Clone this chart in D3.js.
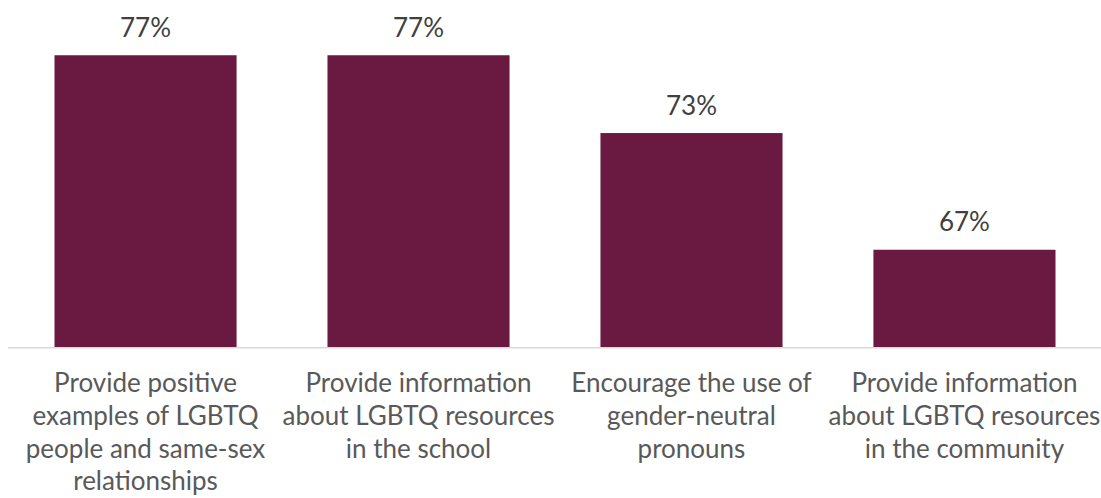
<!DOCTYPE html>
<html>
<head>
<meta charset="utf-8">
<script src="https://cdn.jsdelivr.net/npm/d3@7"></script>
<style>
  html, body { margin: 0; padding: 0; background: #fff; }
  svg { display: block; }
  text { font-family: Lato, "Open Sans", sans-serif; }
</style>
</head>
<body>
<svg id="chart" width="1101" height="498"></svg>
<script>
// Share of respondents supporting each practice (percent)
const categories = [
  "Provide positive\nexamples of LGBTQ\npeople and same-sex\nrelationships",
  "Provide information\nabout LGBTQ resources\nin the school",
  "Encourage the use of\ngender-neutral\npronouns",
  "Provide information\nabout LGBTQ resources\nin the community"
];
const values = [77, 77, 73, 67];
const valueLabels = ["77%", "77%", "73%", "67%"];
const yDomain = [62, 80];

const baseline = 347;
const svg = d3.select("#chart");

const x = d3.scaleBand()
  .domain(categories)
  .range([9, 1101])
  .paddingInner(0.333)
  .paddingOuter(0.1667);

const y = d3.scaleLinear()
  .domain(yDomain)
  .range([baseline, baseline - 18 * 19.45]);

// bars
svg.append("g").selectAll("rect")
  .data(values)
  .join("rect")
  .attr("x", (d, i) => x(categories[i]))
  .attr("y", d => y(d))
  .attr("width", x.bandwidth())
  .attr("height", d => y(yDomain[0]) - y(d))
  .attr("fill", "#6a1a40");

// value labels above the bars
svg.append("g").selectAll("text")
  .data(values)
  .join("text")
  .attr("x", (d, i) => x(categories[i]) + x.bandwidth() / 2)
  .attr("y", d => y(d) - 18.5)
  .attr("text-anchor", "middle")
  .attr("fill", "#404040")
  .style("font-size", "26px")
  .text((d, i) => valueLabels[i]);

// category axis
const axis = svg.append("g")
  .attr("transform", `translate(0,${baseline + 0.7})`)
  .call(d3.axisBottom(x).tickSize(0).tickFormat(""));
axis.select(".domain").attr("stroke", "#d9d9d9").attr("stroke-width", 1.5)
  .attr("d", "M8,0H1101");

axis.selectAll(".tick").each(function (d) {
  const t = d3.select(this).append("text")
    .attr("text-anchor", "middle")
    .attr("y", 44.8)
    .attr("fill", "#595959")
    .style("font-size", "26px");
  d.split("\n").forEach((line, j) => {
    t.append("tspan").attr("x", 0).attr("dy", j === 0 ? 0 : 32.6).text(line);
  });
});
</script>
</body>
</html>
